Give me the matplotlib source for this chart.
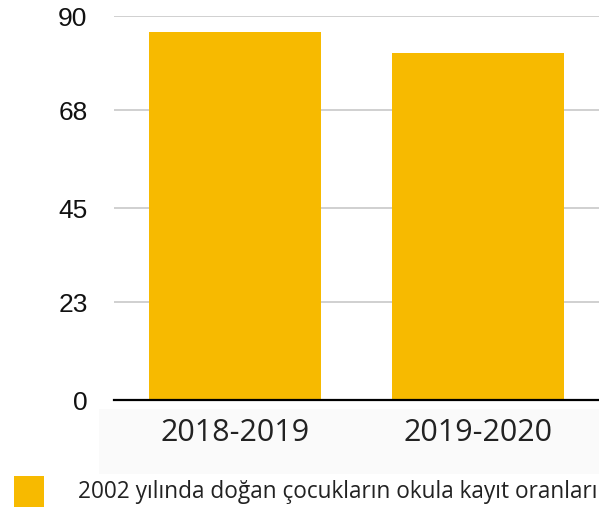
import matplotlib.pyplot as plt
from matplotlib.patches import Rectangle

categories = ['2018-2019', '2019-2020']
values = [86.3, 81.4]
yticks = [0, 23, 45, 68, 90]
legend_label = '2002 yılında doğan çocukların okula kayıt oranları'
bar_color = '#F7BA00'

W, H = 599, 510
fig = plt.figure(figsize=(W / 100, H / 100), dpi=100)

# faint band behind the category labels
fig.patches.append(Rectangle((99 / W, (H - 475) / H), 500 / W, 65 / H,
                             transform=fig.transFigure, facecolor='#fafafa',
                             edgecolor='none', zorder=-5))

ax = fig.add_axes([114 / W, (H - 401) / H, 485 / W, 384 / H])
ax.set_facecolor('none')
ax.bar(range(len(categories)), values, width=0.71, color=bar_color, zorder=2)
ax.set_xlim(-0.5, 1.5)
ax.set_ylim(0, 90)

ax.set_yticks(yticks)
ax.set_yticklabels([str(v) for v in yticks], family='Liberation Sans',
                   fontsize=19, color='#111111')
ax.set_xticks(range(len(categories)))
ax.set_xticklabels(categories, family='Open Sans', fontsize=22, color='#222222')
ax.tick_params(axis='both', length=0)
ax.tick_params(axis='y', pad=19)
ax.tick_params(axis='x', pad=12)

ax.yaxis.grid(True, color='#c8c8c8', linewidth=1.2, zorder=1)
for s in ['top', 'right', 'left']:
    ax.spines[s].set_visible(False)
ax.spines['bottom'].set_color('black')
ax.spines['bottom'].set_linewidth(1.6)
ax.spines['bottom'].set_zorder(3)

# legend
fig.patches.append(Rectangle((14 / W, (H - 508) / H), 30 / W, 31 / H,
                             transform=fig.transFigure, facecolor=bar_color,
                             edgecolor='none'))
fig.text(78 / W, (H - 492) / H, legend_label, family='Open Sans', fontsize=16.3,
         color='#222222', va='center', ha='left')

fig.savefig('out.png', dpi=100)
